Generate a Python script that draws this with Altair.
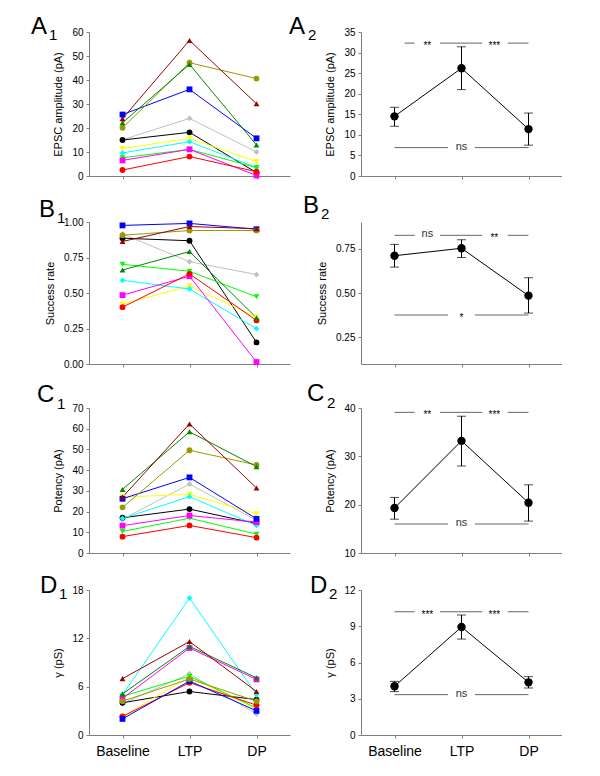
import altair as alt
import pandas as pd

FONT = "Liberation Sans"
stages = ["Baseline", "LTP", "DP"]

series_names = ["gray", "black", "yellow", "cyan", "green", "magenta", "red",
                "blue", "olive", "darkgreen", "darkred"]
series_colors = ["#C0C0C0", "#000000", "#FFFF00", "#00FFFF", "#00FF00", "#FF00FF",
                 "#FF0000", "#0000FF", "#999900", "#008800", "#990000"]
series_shapes = ["diamond", "circle", "triangle-down", "diamond", "triangle-down",
                 "square", "circle", "square", "circle", "triangle-up", "triangle-up"]

# ---- individual cells (Baseline, LTP, DP) ----
A1_epsc = {
    "red": [2.5, 8.1, 1.8], "green": [7.6, 11.1, 3.5], "blue": [25.6, 36.1, 15.7],
    "darkred": [23.9, 56.5, 30.1], "olive": [20.1, 47.2, 40.6], "darkgreen": [22.2, 46.5, 12.9],
    "gray": [15.1, 24.0, 10.0], "black": [15.0, 18.2, 1.4], "yellow": [11.4, 15.7, 6.0],
    "cyan": [9.6, 14.3, 3.5], "magenta": [6.5, 11.1, 0.2],
}
B1_success = {
    "red": [0.40, 0.635, 0.307], "green": [0.702, 0.653, 0.473], "blue": [0.976, 0.99, 0.949],
    "darkred": [0.863, 0.968, 0.953], "olive": [0.907, 0.94, 0.94], "darkgreen": [0.662, 0.792, 0.325],
    "gray": [0.916, 0.72, 0.63], "black": [0.886, 0.868, 0.152], "yellow": [0.422, 0.549, 0.33],
    "cyan": [0.589, 0.528, 0.249], "magenta": [0.485, 0.618, 0.014],
}
C1_potency = {
    "red": [7.9, 13.3, 7.4], "green": [10.4, 16.8, 9.1], "blue": [26.2, 36.5, 16.5],
    "darkred": [27.0, 62.3, 31.4], "olive": [22.0, 49.6, 42.5], "darkgreen": [30.7, 58.5, 41.7],
    "gray": [16.3, 33.3, 15.8], "black": [17.0, 21.2, 14.2], "yellow": [27.0, 28.3, 18.9],
    "cyan": [16.7, 27.2, 13.3], "magenta": [13.2, 18.1, 14.9],
}
D1_gamma = {
    "red": [2.3, 6.5, 3.7], "green": [4.8, 7.3, 3.35], "blue": [2.0, 6.7, 3.0],
    "darkred": [7.0, 11.6, 5.4], "olive": [4.2, 6.95, 4.2], "darkgreen": [5.1, 11.0, 7.1],
    "gray": [3.9, 7.6, 2.6], "black": [4.0, 5.4, 4.4], "yellow": [2.3, 7.2, 3.2],
    "cyan": [5.0, 17.0, 5.0], "magenta": [4.55, 10.8, 6.9],
}

# ---- means +/- SEM ----
A2_mean = [14.5, 26.2, 11.4]; A2_hi = [16.7, 31.4, 15.3]; A2_lo = [12.1, 21.0, 7.5]
B2_mean = [0.71, 0.752, 0.485]; B2_hi = [0.774, 0.80, 0.586]; B2_lo = [0.646, 0.70, 0.387]
C2_mean = [19.3, 33.2, 20.4]; C2_hi = [21.5, 38.3, 24.1]; C2_lo = [17.0, 28.0, 16.6]
D2_mean = [4.03, 8.94, 4.36]; D2_hi = [4.44, 9.93, 4.83]; D2_lo = [3.59, 7.94, 3.89]

# significance: (top level, top labels, bottom level, bottom label)
A2_sig = (32.3, ["**", "***"], 6.9, "ns")
B2_sig = (0.825, ["ns", "**"], 0.376, "*")
C2_sig = (39.1, ["**", "***"], 16.0, "ns")
D2_sig = (10.2, ["***", "***"], 3.34, "ns")

W = 201
label_expr = "[" + ",".join("'%s'" % s for s in stages) + "][datum.value]"


def xenc(field, show_labels):
    return alt.X(field, type="quantitative",
                 scale=alt.Scale(domain=[-0.5, 2.5], nice=False, zero=False),
                 axis=alt.Axis(values=[0, 1, 2], labelExpr=label_expr, labels=show_labels,
                               title=None, grid=False, tickSize=3, labelFontSize=14,
                               labelPadding=6, labelColor="#000"))


def yenc(field, domain, ticks, title, fmt):
    return alt.Y(field, type="quantitative",
                 scale=alt.Scale(domain=domain, nice=False, zero=False),
                 axis=alt.Axis(values=ticks, format=fmt, title=title, grid=False))


def panel_label(letter, sub, pos):
    lx, ly, sx, sy = pos
    a = alt.Chart(pd.DataFrame({"t": [letter]})).mark_text(
        align="left", baseline="alphabetic", fontSize=24, font=FONT, color="#000"
    ).encode(x=alt.value(lx), y=alt.value(ly), text="t:N")
    b = alt.Chart(pd.DataFrame({"t": [sub]})).mark_text(
        align="left", baseline="alphabetic", fontSize=15, font=FONT, color="#000"
    ).encode(x=alt.value(sx), y=alt.value(sy), text="t:N")
    return [a, b]


def individual(values, domain, ticks, title, fmt, show, letter, pos, height, anchor=False):
    rows = []
    for s in series_names:
        for i, v in enumerate(values[s]):
            rows.append({"series": s, "idx": i, "v": v})
    df = pd.DataFrame(rows)
    x = xenc("idx", show)
    y = yenc("v", domain, ticks, title, fmt)
    color = alt.Color("series:N", scale=alt.Scale(domain=series_names, range=series_colors), legend=None)
    shape = alt.Shape("series:N", scale=alt.Scale(domain=series_names, range=series_shapes), legend=None)
    lines = alt.Chart(df).mark_line(strokeWidth=1).encode(x=x, y=y, color=color, detail="series:N")
    pts = alt.Chart(df).mark_point(filled=True, size=34, opacity=1).encode(
        x=x, y=y, color=color, shape=shape)
    layers = [lines, pts] + panel_label(letter, "1", pos)
    if anchor:
        layers.append(alt.Chart(pd.DataFrame({"a": [0]})).mark_point(
            filled=True, size=1, opacity=0).encode(x=alt.value(-80), y=alt.value(-23)))
    return alt.layer(*layers).properties(width=W, height=height)


def summary(mean, hi, lo, sig, domain, ticks, title, fmt, show, letter, pos, height, seg1_start=0.0):
    df = pd.DataFrame({"idx": [0, 1, 2], "m": mean, "hi": hi, "lo": lo})
    x = xenc("idx", show)
    y = yenc("m", domain, ticks, title, fmt)
    line = alt.Chart(df).mark_line(color="#000", strokeWidth=1).encode(x=x, y=y)
    err = alt.Chart(df).mark_rule(color="#000", strokeWidth=1).encode(
        x=x, y=yenc("lo", domain, ticks, title, fmt), y2="hi")
    cap_hi = alt.Chart(df).mark_tick(color="#000", orient="horizontal", size=9, thickness=1).encode(
        x=x, y=yenc("hi", domain, ticks, title, fmt))
    cap_lo = alt.Chart(df).mark_tick(color="#000", orient="horizontal", size=9, thickness=1).encode(
        x=x, y=yenc("lo", domain, ticks, title, fmt))
    pts = alt.Chart(df).mark_point(filled=True, size=70, opacity=1, color="#000").encode(x=x, y=y)

    top_y, top_labels, bot_y, bot_label = sig
    segs = pd.DataFrame({
        "x1": [seg1_start, 0.68, 1.0, 1.69, 0.0, 1.2],
        "x2": [0.3, 1.0, 1.31, 2.0, 0.8, 2.0],
        "y": [top_y] * 4 + [bot_y] * 2,
    })
    rules = alt.Chart(segs).mark_rule(color="#666", strokeWidth=1).encode(
        x=xenc("x1", show), x2="x2", y=yenc("y", domain, ticks, title, fmt))
    texts = pd.DataFrame({"x": [0.49, 1.49, 1.0], "y": [top_y, top_y, bot_y],
                          "t": top_labels + [bot_label]})
    texts["star"] = texts["t"].str.contains(r"\*")
    star_t = alt.Chart(texts[texts["star"]]).mark_text(
        fontSize=10, font=FONT, baseline="middle", dy=3, color="#000").encode(
        x=xenc("x", show), y=yenc("y", domain, ticks, title, fmt), text="t:N")
    word_t = alt.Chart(texts[~texts["star"]]).mark_text(
        fontSize=11, font=FONT, baseline="middle", dy=-1, color="#333").encode(
        x=xenc("x", show), y=yenc("y", domain, ticks, title, fmt), text="t:N")
    layers = [rules, star_t, word_t, line, err, cap_hi, cap_lo, pts] + panel_label(letter, "2", pos)
    return alt.layer(*layers).properties(width=W, height=height)


def spacer(h):
    return alt.Chart(pd.DataFrame({"a": [0]})).mark_point(opacity=0).encode(
        x=alt.value(0), y=alt.value(0)).properties(width=W, height=h)


A1 = individual(A1_epsc, [0, 60], [0, 10, 20, 30, 40, 50, 60], "EPSC amplitude (pA)", "d",
                False, "A", (-58, 2, -40, 8), 144, anchor=True)
A2 = summary(A2_mean, A2_hi, A2_lo, A2_sig, [0, 35], [0, 5, 10, 15, 20, 25, 30, 35],
             "EPSC amplitude (pA)", "d", False, "A", (-72, 2, -53, 8), 144, seg1_start=0.15)
B1 = individual(B1_success, [0, 1], [0, 0.25, 0.5, 0.75, 1.0], "Success rate", ".2f",
                False, "B", (-50, -5, -32, 1), 142)
B2 = summary(B2_mean, B2_hi, B2_lo, B2_sig, [0.1, 0.9], [0.25, 0.5, 0.75], "Success rate", ".2f",
             False, "B", (-58, -9, -40, -3), 142)
C1 = individual(C1_potency, [0, 70], [0, 10, 20, 30, 40, 50, 60, 70], "Potency (pA)", "d",
                False, "C", (-52, -6, -32, 1), 145)
C2 = summary(C2_mean, C2_hi, C2_lo, C2_sig, [10, 40], [10, 20, 30, 40], "Potency (pA)", "d",
             False, "C", (-54, -7, -34, 0), 145)
D1 = individual(D1_gamma, [0, 18], [0, 6, 12, 18], "γ (pS)", "d",
                True, "D", (-49, 3, -30, 9), 145)
D2 = summary(D2_mean, D2_hi, D2_lo, D2_sig, [0, 12], [0, 3, 6, 9, 12], "γ (pS)", "d",
             True, "D", (-51, 3, -32, 9), 145)

chart = alt.concat(
    A1, A2, spacer(46), spacer(46),
    B1, B2, spacer(44), spacer(44),
    C1, C2, spacer(37), spacer(37),
    D1, D2,
    columns=2, spacing={"row": 0, "column": 71}, bounds="flush", padding=0,
).configure_view(stroke=None).configure_axis(
    labelFont=FONT, titleFont=FONT, labelFontSize=10, titleFontSize=11,
    titleFontWeight="normal", labelColor="#000", titleColor="#000",
    domainColor="#808080", tickColor="#808080", tickSize=3, labelPadding=3,
    titlePadding=8,
).configure_text(font=FONT)

chart.save("out.html", embed_options={"renderer": "svg", "actions": False})
